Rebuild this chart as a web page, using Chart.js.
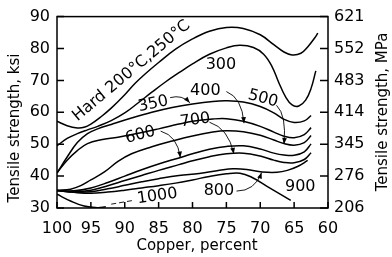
<!DOCTYPE html>
<html>
<head>
<meta charset="utf-8">
<script src="https://cdn.jsdelivr.net/npm/chart.js@4.4.1/dist/chart.umd.min.js"></script>
<style>
  html, body { margin: 0; padding: 0; background: #fff; }
  #wrap { width: 392px; height: 257px; }
</style>
</head>
<body>
<div id="wrap"><canvas id="c" width="392" height="257"></canvas></div>
<script>
// axis ticks
const copperTicks = [ 100, 95, 90, 85, 80, 75, 70, 65, 60 ];
const ksiTicks    = [ 30, 40, 50, 60, 70, 80, 90 ];
const mpaLabels   = [ '206', '276', '345', '414', '483', '552', '621' ];

// one curve per anneal temperature: [ copper %, tensile ksi ]
const hard = [ [100,57.2],[98.5,55.8],[97,55.1],[96,55.3],[95,56.3],[93.5,58.6],[92,61.3],[90,65.5],[88.5,69],[87,72],[85,75.6],[82.5,79.8],[80,83],[77.5,85.4],[75,86.6],[72.5,86.3],[70,84.3],[68,81.2],[66.5,78.9],[65.3,78],[64,78.5],[63,80.5],[62,83.2],[61.5,84.8] ];
const t300 = [ [100,49.5],[98.5,51.8],[97,53.3],[95.5,54.5],[94,55.6],[92,57.4],[90,59.8],[88,63],[86,66.3],[84,69.5],[82,72.4],[80,75.2],[77.5,78.2],[75,80.2],[73,81],[71,80.3],[69.5,78.2],[68.3,74.5],[67.3,69.5],[66.3,65],[65.3,62.3],[64.3,62],[63.3,63.8],[62.5,67.5],[61.8,73] ];
const t350 = [ [100,41],[98.5,46],[97,50.5],[95.5,53.3],[94,54.8],[92,56.2],[89,58.2],[86,60],[83,61.5],[80,62.6],[77,63.4],[75,63.6],[72.5,63.2],[70,61.8],[68,59.8],[66.5,57.8],[65,56.8],[63.5,57.3],[62.5,59] ];
const t400 = [ [100,41],[98.5,45],[97,48],[95.5,50.2],[93.5,51.4],[91,52.2],[88,53.4],[85,54.8],[82,56.3],[80,57.2],[77,57.9],[75,58],[72.5,57.2],[70,55.6],[68,53.8],[66.5,52.5],[65,52],[63.5,53],[62.5,55.2] ];
const t500 = [ [100,35.5],[98,35.9],[96.5,37],[95,38.8],[93,41.3],[91,44.6],[89,47],[86,49.2],[83,51],[80,52.6],[77,53.8],[75,54.2],[72.5,53.9],[70,52.8],[68,51.3],[66.5,50.2],[65,49.7],[63.5,50.5],[62.5,52.7] ];
const t600 = [ [100,35.5],[97.5,35.4],[95,36.3],[92.5,38],[90,40],[87.5,42],[85,43.8],[82,45.7],[80,47],[77.5,48.4],[75,49.3],[72.5,49.5],[70,48.5],[68,47.2],[66.5,46.6],[65,46.5],[63.5,47.6],[62.5,50.1] ];
const t700 = [ [100,35.5],[97.5,35.2],[95,35.6],[92.5,37],[90,38.6],[87.5,40.2],[85,41.8],[82,43.6],[80,44.8],[77.5,46.1],[75,47],[72.5,47.2],[70,46.3],[68,45],[66.5,44.3],[65,44.2],[63.5,45.2],[62.5,47.3] ];
const t800 = [ [100,35.5],[97.5,35],[95,35.1],[92.5,36],[90,37.1],[87.5,38.2],[85,39.2],[82,40.2],[79,40.8],[76,41.8],[74,42.3],[72,42.1],[69.7,41.3],[67.5,41.2],[66,41.8],[64.5,43],[63,44.9] ];
const t900 = [ [100,35.5],[97.5,34.9],[95,34.6],[92.5,35],[90,35.6],[87.5,36.3],[85,37],[82.5,37.8],[80,38.8],[77.5,39.9],[75,40.7],[73,40.9],[71.4,39.8],[69,36.8],[67,34.3],[65.5,32.4] ];
const t1000 = [ [100,34.3],[98,32.2],[96,30.6],[94,30.1],[92.8,30.4] ];

const curves = [ hard, t300, t350, t400, t500, t600, t700, t800, t900, t1000 ];

// curve labels, placed in data units
const labels = [
    { text: 'Hard 200°C,250°C', cu: 89.0, ksi: 73.0, rot: -40 },
    { text: '300',  cu: 75.8, ksi: 74.8, rot: 0 },
    { text: '350',  cu: 85.8, ksi: 62.6, rot: -12 },
    { text: '400',  cu: 78.1, ksi: 66.8, rot: 0 },
    { text: '500',  cu: 69.6, ksi: 64.3, rot: 15 },
    { text: '600',  cu: 87.7, ksi: 52.9, rot: -15 },
    { text: '700',  cu: 79.6, ksi: 57.5, rot: -8 },
    { text: '800',  cu: 76.1, ksi: 35.3, rot: 0 },
    { text: '900',  cu: 64.1, ksi: 36.5, rot: 0 },
    { text: '1000', cu: 85.2, ksi: 33.7, rot: -8 },
];

// leader arrows: start, control, end (data units)
const arrows = [
    [ [83.3,64.6], [81.5,65.6], [80.4,63.0] ],
    [ [75.0,66.5], [72.7,64.6], [72.4,56.6] ],
    [ [67.6,62.2], [66.1,59.1], [66.5,50.1] ],
    [ [84.7,54.1], [82.2,52.6], [81.8,45.8] ],
    [ [77.5,56.9], [74.7,55.0], [73.9,47.0] ],
    [ [73.5,35.3], [70.8,35.3], [69.8,41.1] ],
];

const FONT = 'DejaVu Sans';

const decor = {
    id: 'decor',
    afterDraw( chart )
    {
        const ctx = chart.ctx;
        const a = chart.chartArea;
        const x = chart.scales.x;
        const y = chart.scales.y;
        const px = v => x.getPixelForValue( v );
        const py = v => y.getPixelForValue( v );

        ctx.save();
        ctx.strokeStyle = '#000';
        ctx.fillStyle = '#000';

        // frame
        ctx.lineWidth = 1.5;
        ctx.strokeRect( a.left, a.top, a.right - a.left, a.bottom - a.top );

        // inward tick marks
        ctx.beginPath();
        ksiTicks.forEach( v => {
            ctx.moveTo( a.left, py( v ) );  ctx.lineTo( a.left + 7, py( v ) );
            ctx.moveTo( a.right, py( v ) ); ctx.lineTo( a.right - 8, py( v ) );
        });
        copperTicks.forEach( v => {
            ctx.moveTo( px( v ), a.bottom ); ctx.lineTo( px( v ), a.bottom - 6 );
        });
        ctx.stroke();

        // leader arrows
        ctx.lineWidth = 0.9;
        arrows.forEach( ar => {
            const s = [ px( ar[0][0] ), py( ar[0][1] ) ];
            const c = [ px( ar[1][0] ), py( ar[1][1] ) ];
            const e = [ px( ar[2][0] ), py( ar[2][1] ) ];
            ctx.beginPath();
            ctx.moveTo( s[0], s[1] );
            ctx.quadraticCurveTo( c[0], c[1], e[0], e[1] );
            ctx.stroke();
            const ang = Math.atan2( e[1] - c[1], e[0] - c[0] );
            ctx.beginPath();
            ctx.moveTo( e[0], e[1] );
            ctx.lineTo( e[0] - 6 * Math.cos( ang ) + 2.4 * Math.sin( ang ), e[1] - 6 * Math.sin( ang ) - 2.4 * Math.cos( ang ) );
            ctx.lineTo( e[0] - 6 * Math.cos( ang ) - 2.4 * Math.sin( ang ), e[1] - 6 * Math.sin( ang ) + 2.4 * Math.cos( ang ) );
            ctx.closePath();
            ctx.fill();
        });

        // dashed leader for 1000
        ctx.setLineDash( [ 5, 3 ] );
        ctx.beginPath();
        ctx.moveTo( px( 92.0 ), py( 31.2 ) );
        ctx.lineTo( px( 88.7 ), py( 32.4 ) );
        ctx.stroke();
        ctx.setLineDash( [] );

        // curve labels
        ctx.font = '16px "' + FONT + '"';
        ctx.textAlign = 'center';
        ctx.textBaseline = 'middle';
        labels.forEach( l => {
            ctx.save();
            ctx.translate( px( l.cu ), py( l.ksi ) );
            ctx.rotate( l.rot * Math.PI / 180 );
            ctx.fillText( l.text, 0, 0 );
            ctx.restore();
        });

        // axis titles
        ctx.font = '15px "' + FONT + '"';
        ctx.fillText( 'Copper, percent', 197, 246 );
        ctx.save();
        ctx.translate( 15, 128 );
        ctx.rotate( -Math.PI / 2 );
        ctx.fillText( 'Tensile strength, ksi', 0, 0 );
        ctx.restore();
        ctx.save();
        ctx.translate( 383, 112 );
        ctx.rotate( -Math.PI / 2 );
        ctx.fillText( 'Tensile strength, MPa', 0, 0 );
        ctx.restore();

        ctx.restore();
    }
};

const tickFont = { family: FONT, size: 16 };

new Chart( document.getElementById( 'c' ), {
    type: 'line',
    data: {
        datasets: curves.map( pts => ({
            data: pts.map( p => ({ x: p[0], y: p[1] }) ),
            borderColor: '#000',
            borderWidth: 1.5,
            pointRadius: 0,
            tension: 0.4,
            fill: false,
            yAxisID: 'y',
        }))
    },
    options: {
        responsive: false,
        animation: false,
        layout: { padding: { top: 14, left: 0, right: 0, bottom: 0 } },
        plugins: { legend: { display: false }, tooltip: { enabled: false } },
        scales: {
            x: {
                type: 'linear', reverse: true, min: 60, max: 100,
                grid: { display: false, drawTicks: false },
                border: { display: false },
                ticks: { stepSize: 5, color: '#000', font: tickFont, padding: 11, maxRotation: 0 },
                afterFit: s => { s.height = 49; }
            },
            y: {
                type: 'linear', position: 'left', min: 30, max: 90,
                grid: { display: false, drawTicks: false },
                border: { display: false },
                ticks: { stepSize: 10, color: '#000', font: tickFont, padding: 7 },
                afterFit: s => { s.width = 57; }
            },
            y2: {
                type: 'linear', position: 'right', min: 30, max: 90,
                grid: { display: false, drawTicks: false },
                border: { display: false },
                ticks: { stepSize: 10, color: '#000', font: tickFont, padding: 6,
                         callback: v => mpaLabels[ ksiTicks.indexOf( v ) ] },
                afterFit: s => { s.width = 64; }
            }
        }
    },
    plugins: [ decor ]
});
</script>
</body>
</html>
